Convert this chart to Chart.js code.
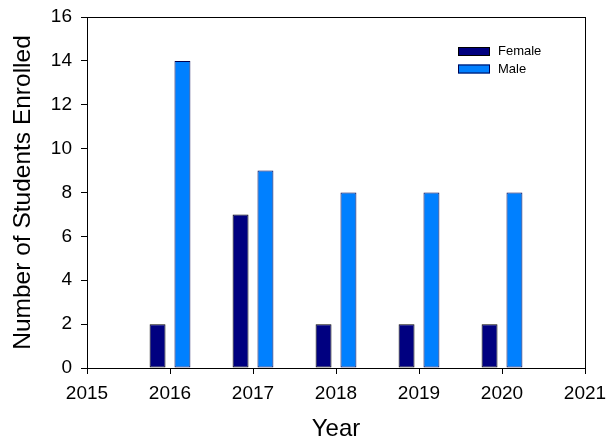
<!DOCTYPE html>
<html lang="en">
  <head>
    <meta charset="UTF-8" />
    <title>Students Enrolled</title>
    <script src="https://cdn.jsdelivr.net/npm/chart.js"></script>
    <style>
      html, body { margin: 0; padding: 0; background: #fff; }
      #wrap { width: 614px; height: 446px; }
    </style>
  </head>
  <body>
    <div id="wrap"><canvas id="enrolChart"></canvas></div>

    <script>
      const years = [2016, 2017, 2018, 2019, 2020];
      const female = [2, 7, 2, 2, 2];
      const male = [14, 9, 8, 8, 8];
      const xTicks = [2015, 2016, 2017, 2018, 2019, 2020, 2021];
      const yTicks = [0, 2, 4, 6, 8, 10, 12, 14, 16];

      const font = "'Liberation Sans', Arial, sans-serif";

      // box round the plot + legend inside the plot, top right
      const framePlugin = {
        id: "frame",
        afterDraw(chart) {
          const { ctx, chartArea: a } = chart;
          ctx.save();
          ctx.strokeStyle = "#000";
          ctx.lineWidth = 1;
          ctx.strokeRect(a.left + 0.5, a.top + 0.5, a.right - a.left, a.bottom - a.top);

          ctx.font = "13px " + font;
          ctx.textBaseline = "middle";
          chart.data.datasets.forEach((ds, i) => {
            const y = 47 + i * 17.5;
            ctx.fillStyle = ds.backgroundColor;
            ctx.fillRect(458, y, 32, 9);
            ctx.strokeStyle = ds.borderColor;
            ctx.strokeRect(458.5, y + 0.5, 31, 8);
            ctx.fillStyle = "#000";
            ctx.fillText(ds.label, 498, y + 4.5);
          });
          ctx.restore();
        },
      };

      new Chart(document.getElementById("enrolChart"), {
        type: "bar",
        data: {
          datasets: [
            {
              label: "Female",
              data: years.map((x, i) => ({ x: x, y: female[i] })),
              backgroundColor: "#000080",
              borderColor: "#000000",
              borderWidth: 1,
              borderSkipped: false,
            },
            {
              label: "Male",
              data: years.map((x, i) => ({ x: x, y: male[i] })),
              backgroundColor: "#0080ff",
              borderColor: "#000050",
              borderWidth: 1,
              borderSkipped: false,
            },
          ],
        },
        options: {
          responsive: true,
          maintainAspectRatio: false,
          animation: false,
          categoryPercentage: 0.6,
          barPercentage: 0.64,
          layout: { padding: { top: 17, right: 29, left: 0, bottom: 0 } },
          plugins: {
            legend: { display: false },
            tooltip: { enabled: false },
          },
          scales: {
            x: {
              type: "linear",
              min: 2015,
              max: 2021,
              offset: false,
              afterBuildTicks(s) {
                s.ticks = xTicks.map((v) => ({ value: v }));
              },
              afterFit(s) {
                s.height = 78;
                s.paddingLeft = 0;
                s.paddingRight = 0;
              },
              ticks: {
                color: "#000",
                font: { family: font, size: 19 },
                padding: 8,
                maxRotation: 0,
                callback: (v) => String(v),
              },
              grid: {
                drawOnChartArea: false,
                drawTicks: true,
                tickLength: 6,
                color: "#000",
                offset: false,
              },
              border: { display: true, color: "#000" },
              title: {
                display: true,
                text: "Year",
                color: "#000",
                font: { family: font, size: 24 },
                padding: { top: 0, bottom: 2 },
              },
            },
            y: {
              min: 0,
              max: 16,
              afterBuildTicks(s) {
                s.ticks = yTicks.map((v) => ({ value: v }));
              },
              afterFit(s) {
                s.width = 87;
                s.paddingTop = 0;
                s.paddingBottom = 0;
              },
              ticks: {
                color: "#000",
                font: { family: font, size: 19 },
                padding: 9,
              },
              grid: {
                drawOnChartArea: false,
                drawTicks: true,
                tickLength: 6,
                color: "#000",
              },
              border: { display: true, color: "#000" },
              title: {
                display: true,
                text: "Number of Students Enrolled",
                color: "#000",
                font: { family: font, size: 24.5 },
                padding: { top: 9, bottom: 0 },
              },
            },
          },
        },
        plugins: [framePlugin],
      });
    </script>
  </body>
</html>
